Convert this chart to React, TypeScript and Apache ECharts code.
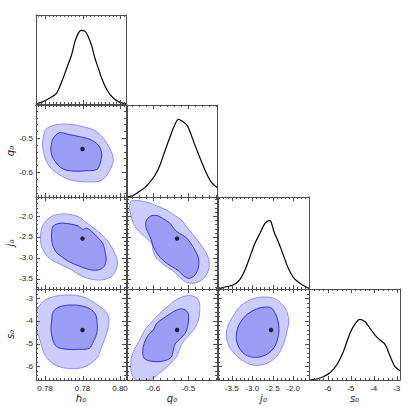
import React, { useEffect, useRef } from 'react';
import * as echarts from 'echarts';

// ---------- parameters / axes ----------
const paramNames = ['h₀', 'q₀', 'j₀', 's₀'];
const xMins = [0.7726, -0.675, -3.834, -6.813];
const xMaxs = [0.7966, -0.418, -1.614, -2.857];
const yMins = [0, -0.673, -3.746, -6.615];
const yMaxs = [1, -0.403, -1.545, -2.588];
const tickValues = [
  [0.775, 0.785, 0.795],
  [-0.6, -0.5],
  [-3.5, -3.0, -2.5, -2.0],
  [-6, -5, -4, -3],
];
const tickLabels = [
  ['0.78', '0.78', '0.80'],
  ['-0.6', '-0.5'],
  ['-3.5', '-3.0', '-2.5', '-2.0'],
  ['-6', '-5', '-4', '-3'],
];
const minorSteps = [0.001, 0.02, 0.1, 0.2];
const fiducial = [0.785, -0.532, -2.54, -4.4];
const pdfMax = [1.21, 1.185, 1.347, 1.499];

// ---------- 1D marginals [value, density] ----------
const h0Pdf = [
  [0.7726, 0.0], [0.7746, 0.036], [0.7763, 0.081], [0.7781, 0.149], [0.7795, 0.308],
  [0.7808, 0.489], [0.7821, 0.67], [0.783, 0.851], [0.7839, 0.964], [0.7846, 1.0],
  [0.7857, 0.987], [0.7865, 0.919], [0.7875, 0.783], [0.7883, 0.625], [0.7892, 0.489],
  [0.7901, 0.353], [0.7915, 0.194], [0.7932, 0.081], [0.795, 0.022], [0.7966, 0.004],
];
const q0Pdf = [
  [-0.674, 0.0], [-0.657, 0.022], [-0.638, 0.078], [-0.624, 0.121], [-0.609, 0.194],
  [-0.595, 0.28], [-0.581, 0.41], [-0.566, 0.603], [-0.552, 0.775], [-0.541, 0.904],
  [-0.528, 1.0], [-0.519, 0.982], [-0.504, 0.926], [-0.495, 0.84], [-0.481, 0.668],
  [-0.466, 0.496], [-0.452, 0.345], [-0.438, 0.216], [-0.426, 0.151], [-0.417, 0.121],
];
const j0Pdf = [
  [-3.827, 0.0], [-3.705, 0.024], [-3.541, 0.044], [-3.419, 0.073], [-3.297, 0.142],
  [-3.175, 0.278], [-3.054, 0.473], [-2.932, 0.669], [-2.81, 0.816], [-2.688, 0.962],
  [-2.583, 1.0], [-2.541, 0.985], [-2.468, 0.839], [-2.363, 0.693], [-2.241, 0.498],
  [-2.119, 0.303], [-1.997, 0.171], [-1.834, 0.083], [-1.671, 0.025], [-1.615, 0.01],
];
const s0Pdf = [
  [-6.8, 0.0], [-6.478, 0.016], [-6.191, 0.054], [-5.9, 0.12], [-5.609, 0.247],
  [-5.322, 0.466], [-5.03, 0.769], [-4.813, 0.923], [-4.596, 1.0], [-4.378, 0.96],
  [-4.161, 0.852], [-3.943, 0.741], [-3.726, 0.659], [-3.509, 0.588], [-3.365, 0.466],
  [-3.217, 0.329], [-3.074, 0.219], [-2.857, 0.153],
];

// ---------- 2D contours (95% outer, 68% inner) ----------
const h0q0_95 = [
  [0.7744, -0.511], [0.7755, -0.4715], [0.7799, -0.4589], [0.7852, -0.4668], [0.7888, -0.4815],
  [0.7915, -0.5157], [0.7932, -0.5598], [0.7923, -0.5942], [0.7901, -0.6236], [0.7861, -0.6286],
  [0.7821, -0.6236], [0.779, -0.6089], [0.7763, -0.5845], [0.7748, -0.5501],
];
const h0q0_68 = [
  [0.7766, -0.5256], [0.7772, -0.501], [0.7788, -0.4845], [0.7812, -0.4892], [0.7843, -0.4962],
  [0.787, -0.5039], [0.7892, -0.5206], [0.7901, -0.5451], [0.7897, -0.5745], [0.7888, -0.5921],
  [0.7857, -0.5962], [0.7825, -0.5971], [0.7799, -0.5912], [0.7785, -0.5795], [0.7772, -0.5598],
  [0.7766, -0.5404],
];
const h0j0_95 = [
  [0.7741, -2.294], [0.7755, -2.095], [0.7777, -1.976], [0.7808, -1.952], [0.7839, -2.016],
  [0.7857, -2.136], [0.7875, -2.256], [0.7897, -2.413], [0.7915, -2.574], [0.7932, -2.813],
  [0.7943, -3.093], [0.7937, -3.332], [0.7919, -3.49], [0.7888, -3.531], [0.7852, -3.452],
  [0.7821, -3.291], [0.7795, -3.172], [0.7768, -3.052], [0.775, -2.892], [0.7739, -2.653],
];
const h0j0_68 = [
  [0.7768, -2.375], [0.7772, -2.239], [0.779, -2.174], [0.7817, -2.191], [0.7839, -2.239],
  [0.785, -2.318], [0.7861, -2.294], [0.7875, -2.375], [0.789, -2.509], [0.7904, -2.653],
  [0.791, -2.854], [0.7913, -3.052], [0.7907, -3.212], [0.7892, -3.291], [0.7865, -3.275],
  [0.7839, -3.188], [0.7812, -3.083], [0.7795, -2.973], [0.7781, -2.878], [0.7772, -2.734],
  [0.7768, -2.574],
];
const h0s0_95 = [
  [0.7729, -3.517], [0.7745, -3.15], [0.7772, -2.929], [0.7808, -2.853], [0.7843, -2.898],
  [0.787, -3.075], [0.7897, -3.371], [0.7916, -3.665], [0.792, -4.106], [0.7913, -4.623],
  [0.7901, -5.141], [0.7888, -5.654], [0.7852, -6.053], [0.7808, -6.097], [0.7772, -5.906],
  [0.775, -5.508], [0.7739, -4.991], [0.7729, -4.402], [0.7726, -3.96],
];
const h0s0_68 = [
  [0.7768, -3.96], [0.7772, -3.592], [0.779, -3.371], [0.7825, -3.296], [0.7861, -3.398],
  [0.7883, -3.665], [0.7889, -4.106], [0.7888, -4.548], [0.7879, -4.92], [0.7868, -5.212],
  [0.7843, -5.256], [0.7808, -5.256], [0.7781, -5.141], [0.7771, -4.845], [0.7766, -4.402],
];
const q0j0_95 = [
  [-0.668, -1.777], [-0.662, -1.641], [-0.624, -1.657], [-0.59, -1.76], [-0.562, -1.856],
  [-0.541, -1.976], [-0.519, -2.095], [-0.507, -2.239], [-0.493, -2.375], [-0.474, -2.574],
  [-0.459, -2.748], [-0.446, -2.933], [-0.44, -3.148], [-0.446, -3.37], [-0.462, -3.531],
  [-0.486, -3.61], [-0.509, -3.571], [-0.526, -3.452], [-0.544, -3.308], [-0.569, -3.172],
  [-0.59, -3.012], [-0.6, -2.854], [-0.604, -2.669], [-0.624, -2.495], [-0.643, -2.351],
  [-0.657, -2.174], [-0.664, -1.976],
];
const q0j0_68 = [
  [-0.621, -2.255], [-0.619, -2.095], [-0.604, -1.992], [-0.586, -2.0], [-0.566, -2.095],
  [-0.55, -2.191], [-0.541, -2.303], [-0.526, -2.413], [-0.507, -2.509], [-0.493, -2.653],
  [-0.48, -2.83], [-0.471, -3.012], [-0.471, -3.227], [-0.481, -3.411], [-0.497, -3.49],
  [-0.514, -3.428], [-0.528, -3.308], [-0.547, -3.212], [-0.571, -3.069], [-0.588, -2.909],
  [-0.6, -2.734], [-0.606, -2.557], [-0.614, -2.413],
];
const q0s0_95 = [
  [-0.533, -3.044], [-0.504, -2.884], [-0.481, -2.929], [-0.47, -3.106], [-0.467, -3.517],
  [-0.471, -3.96], [-0.48, -4.283], [-0.493, -4.548], [-0.509, -4.814], [-0.522, -5.141],
  [-0.531, -5.508], [-0.543, -5.76], [-0.562, -6.053], [-0.583, -6.318], [-0.602, -6.557],
  [-0.628, -6.628], [-0.652, -6.57], [-0.662, -6.318], [-0.664, -5.876], [-0.659, -5.433],
  [-0.647, -5.066], [-0.636, -4.77], [-0.624, -4.402], [-0.604, -4.035], [-0.581, -3.665],
  [-0.554, -3.296],
];
const q0s0_68 = [
  [-0.533, -3.517], [-0.516, -3.473], [-0.503, -3.592], [-0.499, -3.84], [-0.502, -4.256],
  [-0.509, -4.548], [-0.523, -4.787], [-0.538, -5.022], [-0.543, -5.318], [-0.549, -5.61],
  [-0.564, -5.743], [-0.586, -5.805], [-0.609, -5.774], [-0.626, -5.654], [-0.63, -5.362],
  [-0.626, -4.991], [-0.614, -4.623], [-0.6, -4.402], [-0.59, -4.106], [-0.571, -3.885],
  [-0.55, -3.665],
];
const j0s0_95 = [
  [-3.427, -3.681], [-3.266, -3.311], [-2.98, -3.017], [-2.695, -2.942], [-2.451, -3.017],
  [-2.29, -3.238], [-2.168, -3.531], [-2.11, -3.973], [-2.144, -4.415], [-2.207, -4.858],
  [-2.329, -5.376], [-2.534, -5.774], [-2.817, -5.964], [-3.061, -5.92], [-3.266, -5.716],
  [-3.468, -5.376], [-3.59, -5.008], [-3.631, -4.566], [-3.573, -4.123],
];
const j0s0_68 = [
  [-3.329, -4.194], [-3.224, -3.902], [-3.102, -3.681], [-2.9, -3.473], [-2.695, -3.385],
  [-2.534, -3.429], [-2.436, -3.681], [-2.371, -4.004], [-2.346, -4.415], [-2.388, -4.858],
  [-2.468, -5.185], [-2.615, -5.451], [-2.817, -5.597], [-3.022, -5.597], [-3.2, -5.451],
  [-3.329, -5.154], [-3.388, -4.787], [-3.371, -4.447],
];

const pdfs = [h0Pdf, q0Pdf, j0Pdf, s0Pdf];
const contours: Record<string, number[][][]> = {
  '1-0': [h0q0_95, h0q0_68],
  '2-0': [h0j0_95, h0j0_68],
  '3-0': [h0s0_95, h0s0_68],
  '2-1': [q0j0_95, q0j0_68],
  '3-1': [q0s0_95, q0s0_68],
  '3-2': [j0s0_95, j0s0_68],
};

// ---------- layout ----------
const colLeft = [36, 127, 218, 309];
const colWidth = [90, 90, 91, 91];
const rowTop = [15, 105, 197, 289];
const rowHeight = [89, 92, 92, 91];

const FRAME = '#4d4d4d';
const TICK = '#4d4d4d';
const FONT = 'Liberation Sans, Arial, sans-serif';
const styles95 = { fill: '#ccccff', stroke: '#8f8fff', lineWidth: 1 };
const styles68 = { fill: '#9d9df6', stroke: '#3434e0', lineWidth: 1 };
const MAJOR_LEN = 4;
const MINOR_LEN = 2;

function minorValues(k: number, lo: number, hi: number) {
  const s = minorSteps[k];
  const out: number[] = [];
  for (let n = Math.ceil(lo / s - 1e-9); n * s <= hi + 1e-12; n++) {
    out.push(Math.round(n * s * 1e6) / 1e6);
  }
  return out;
}

function fmt(k: number) {
  return (v: number) => {
    const idx = tickValues[k].findIndex((t) => Math.abs(t - v) < 1e-7);
    return idx >= 0 ? tickLabels[k][idx] : '';
  };
}

// tick marks drawn through the panel's own scales (side: 0 bottom, 1 top, 2 left, 3 right)
function tickSeries(i: number, j: number, xi: number, yi: number) {
  const data: number[][] = [];
  const xlo = xMins[j], xhi = xMaxs[j];
  const ylo = i === j ? 0 : yMins[i], yhi = i === j ? pdfMax[i] : yMaxs[i];
  const isMajor = (k: number, v: number) => tickValues[k].some((t) => Math.abs(t - v) < 1e-7);
  minorValues(j, xlo, xhi).forEach((v) => {
    if (!isMajor(j, v)) { data.push([v, ylo, 0, 0]); data.push([v, yhi, 1, 0]); }
  });
  tickValues[j].forEach((v) => { data.push([v, ylo, 0, 1]); data.push([v, yhi, 1, 1]); });
  if (i !== j) {
    minorValues(i, ylo, yhi).forEach((v) => {
      if (!isMajor(i, v)) { data.push([xlo, v, 2, 0]); data.push([xhi, v, 3, 0]); }
    });
    tickValues[i].forEach((v) => { data.push([xlo, v, 2, 1]); data.push([xhi, v, 3, 1]); });
  }
  return {
    type: 'custom', coordinateSystem: 'cartesian2d', xAxisIndex: xi, yAxisIndex: yi,
    clip: false, silent: true, z: 10, data, encode: { x: 0, y: 1 },
    renderItem: (params: any, api: any) => {
      const p = api.coord([api.value(0), api.value(1)]);
      const side = api.value(2);
      const len = api.value(3) ? MAJOR_LEN : MINOR_LEN;
      const x = Math.round(p[0]) + 0.5, y = Math.round(p[1]) + 0.5;
      let shape;
      if (side === 0) shape = { x1: x, y1: p[1], x2: x, y2: p[1] - len };
      else if (side === 1) shape = { x1: x, y1: p[1], x2: x, y2: p[1] + len };
      else if (side === 2) shape = { x1: p[0], y1: y, x2: p[0] + len, y2: y };
      else shape = { x1: p[0], y1: y, x2: p[0] - len, y2: y };
      return { type: 'line', shape, style: { stroke: TICK, lineWidth: 1 } };
    },
  };
}

function buildOption() {
  const grid: any[] = [];
  const xAxis: any[] = [];
  const yAxis: any[] = [];
  const series: any[] = [];
  const nameStyle = { fontSize: 10, fontStyle: 'italic', color: '#222', fontFamily: 'DejaVu Sans, sans-serif' };
  const lineOn = { show: true, onZero: false, lineStyle: { color: FRAME, width: 1 } };

  for (let i = 0; i < 4; i++) {
    for (let j = 0; j <= i; j++) {
      const g = grid.length;
      grid.push({ left: colLeft[j], top: rowTop[i], width: colWidth[j], height: rowHeight[i], show: false });
      const base = { gridIndex: g, type: 'value', z: 10, splitLine: { show: false }, axisLine: lineOn, axisTick: { show: false } };

      const xMajIdx = xAxis.length;
      for (const pos of ['bottom', 'top']) {
        const showLab = pos === 'bottom' && i === 3;
        xAxis.push({
          ...base, position: pos, min: xMins[j], max: xMaxs[j],
          axisLabel: showLab
            ? { show: true, customValues: tickValues[j], formatter: fmt(j), fontSize: 8, color: '#222', fontFamily: FONT, margin: 4 }
            : { show: false },
          name: showLab ? paramNames[j] : '',
          nameLocation: 'middle', nameGap: 13, nameTextStyle: nameStyle,
        });
      }

      const yMajIdx = yAxis.length;
      for (const pos of ['left', 'right']) {
        if (i === j) {
          yAxis.push({ ...base, min: 0, max: pdfMax[i], position: pos, axisLabel: { show: false } });
        } else {
          const showLab = pos === 'left' && j === 0;
          yAxis.push({
            ...base, position: pos, min: yMins[i], max: yMaxs[i],
            axisLabel: showLab
              ? { show: true, customValues: tickValues[i], formatter: fmt(i), fontSize: 8, color: '#222', fontFamily: FONT, margin: 3 }
              : { show: false },
            name: showLab ? paramNames[i] : '',
            nameLocation: 'middle', nameGap: 21, nameRotate: 90, nameTextStyle: nameStyle,
          });
        }
      }

      if (i === j) {
        series.push({
          type: 'line', xAxisIndex: xMajIdx, yAxisIndex: yMajIdx,
          data: pdfs[i], smooth: 0.35, showSymbol: false, symbol: 'none',
          lineStyle: { color: '#000', width: 1.2 }, clip: true, z: 3,
        });
      } else {
        const [c95, c68] = contours[`${i}-${j}`];
        [[c95, styles95], [c68, styles68]].forEach(([pts, st]: any, n) => {
          series.push({
            type: 'custom', coordinateSystem: 'cartesian2d',
            xAxisIndex: xMajIdx, yAxisIndex: yMajIdx, clip: true, z: 2 + n,
            data: pts, encode: { x: 0, y: 1 },
            renderItem: (params: any, api: any) => {
              if (params.dataIndex !== 0) return null;
              return {
                type: 'polygon',
                shape: { points: pts.map((p: number[]) => api.coord(p)), smooth: 0.35 },
                style: { ...st },
              };
            },
          });
        });
        series.push({
          type: 'scatter', xAxisIndex: xMajIdx, yAxisIndex: yMajIdx,
          data: [[fiducial[j], fiducial[i]]], symbolSize: 4.5,
          itemStyle: { color: '#000' }, z: 5,
        });
      }
      series.push(tickSeries(i, j, xMajIdx, yMajIdx));
    }
  }

  return { animation: false, backgroundColor: '#fff', grid, xAxis, yAxis, series };
}

export default function App() {
  const ref = useRef<HTMLDivElement>(null);
  useEffect(() => {
    if (!ref.current) return;
    const chart = echarts.init(ref.current, undefined, { renderer: 'svg' });
    chart.setOption(buildOption() as any);
    return () => chart.dispose();
  }, []);
  return <div ref={ref} style={{ position: 'fixed', left: 0, top: 0, width: 407, height: 407 }} />;
}
